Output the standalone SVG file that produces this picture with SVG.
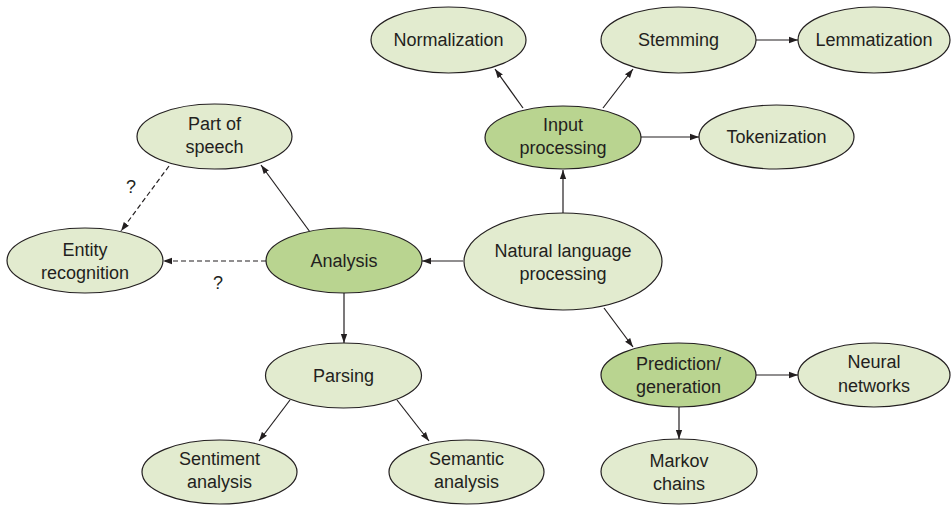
<svg xmlns="http://www.w3.org/2000/svg" width="951" height="506" viewBox="0 0 951 506">
<defs>
<marker id="arr" viewBox="0 0 10 10" refX="10" refY="5" markerWidth="9" markerHeight="9" markerUnits="userSpaceOnUse" orient="auto">
<path d="M0,1.5 L10,5 L0,8.5 Z" fill="#231f20"/>
</marker>
</defs>
<style>
.n{fill:#e2ebcf;stroke:#231f20;stroke-width:1.2}
.d{fill:#b9d490;stroke:#231f20;stroke-width:1.2}
text{font-family:"Liberation Sans",Arial,sans-serif;font-size:18px;fill:#231f20;text-anchor:middle}
.c{stroke:#231f20;stroke-width:1.2;fill:none;marker-end:url(#arr)}
.dash{stroke-dasharray:5 3}
</style>
<rect width="951" height="506" fill="#ffffff"/>
<g id="connectors">
<line class="c" x1="523" y1="108" x2="495" y2="69"/>
<line class="c" x1="603" y1="108" x2="633" y2="69"/>
<line class="c" x1="756" y1="40" x2="798" y2="40"/>
<line class="c" x1="641" y1="137" x2="699" y2="137"/>
<line class="c" x1="563" y1="213" x2="563" y2="170"/>
<line class="c" x1="463" y1="261" x2="422" y2="261"/>
<line class="c" x1="310" y1="232" x2="261" y2="165"/>
<line class="c dash" x1="169" y1="166" x2="121" y2="231"/>
<line class="c dash" x1="266" y1="261" x2="163" y2="261"/>
<line class="c" x1="344" y1="293" x2="344" y2="343"/>
<line class="c" x1="290" y1="400" x2="259" y2="441"/>
<line class="c" x1="397" y1="400" x2="429" y2="441"/>
<line class="c" x1="604" y1="308" x2="633" y2="347"/>
<line class="c" x1="756" y1="375" x2="798" y2="375"/>
<line class="c" x1="679" y1="407" x2="679" y2="439"/>
<text x="131" y="193">?</text>
<text x="218" y="289">?</text>
</g>
<g id="normalization"><ellipse class="n" cx="448.5" cy="40" rx="77.5" ry="33"/><text x="448.5" y="46">Normalization</text></g>
<g id="stemming"><ellipse class="n" cx="678.5" cy="40" rx="77.5" ry="33"/><text x="678.5" y="46">Stemming</text></g>
<g id="lemmatization"><ellipse class="n" cx="874" cy="40" rx="76" ry="33"/><text x="874" y="46">Lemmatization</text></g>
<g id="input-processing"><ellipse class="d" cx="563" cy="137.5" rx="78" ry="31.5"/><text x="563" y="131">Input</text><text x="563" y="154">processing</text></g>
<g id="tokenization"><ellipse class="n" cx="776.5" cy="137" rx="77.5" ry="32"/><text x="776.5" y="143">Tokenization</text></g>
<g id="part-of-speech"><ellipse class="n" cx="214.5" cy="136.5" rx="77.5" ry="32.5"/><text x="214.5" y="130">Part of</text><text x="214.5" y="153">speech</text></g>
<g id="entity-recognition"><ellipse class="n" cx="85" cy="260.5" rx="78" ry="32.5"/><text x="85" y="256">Entity</text><text x="85" y="279">recognition</text></g>
<g id="analysis"><ellipse class="d" cx="344" cy="260.5" rx="78" ry="32.5"/><text x="344" y="267">Analysis</text></g>
<g id="nlp"><ellipse class="n" cx="563" cy="261.5" rx="99" ry="48.5"/><text x="563" y="257">Natural language</text><text x="563" y="280">processing</text></g>
<g id="parsing"><ellipse class="n" cx="343.5" cy="375.5" rx="78" ry="32.5"/><text x="343.5" y="382">Parsing</text></g>
<g id="sentiment-analysis"><ellipse class="n" cx="219.5" cy="472" rx="77.5" ry="32"/><text x="219.5" y="465">Sentiment</text><text x="219.5" y="488">analysis</text></g>
<g id="semantic-analysis"><ellipse class="n" cx="466.5" cy="472" rx="77.5" ry="32"/><text x="466.5" y="465">Semantic</text><text x="466.5" y="488">analysis</text></g>
<g id="prediction-generation"><ellipse class="d" cx="678.5" cy="375" rx="77.5" ry="32"/><text x="678.5" y="370">Prediction/</text><text x="678.5" y="393">generation</text></g>
<g id="neural-networks"><ellipse class="n" cx="874" cy="375" rx="76" ry="32"/><text x="874" y="368">Neural</text><text x="874" y="392">networks</text></g>
<g id="markov-chains"><ellipse class="n" cx="679" cy="471.5" rx="78" ry="32.5"/><text x="679" y="467">Markov</text><text x="679" y="490">chains</text></g>
</svg>
